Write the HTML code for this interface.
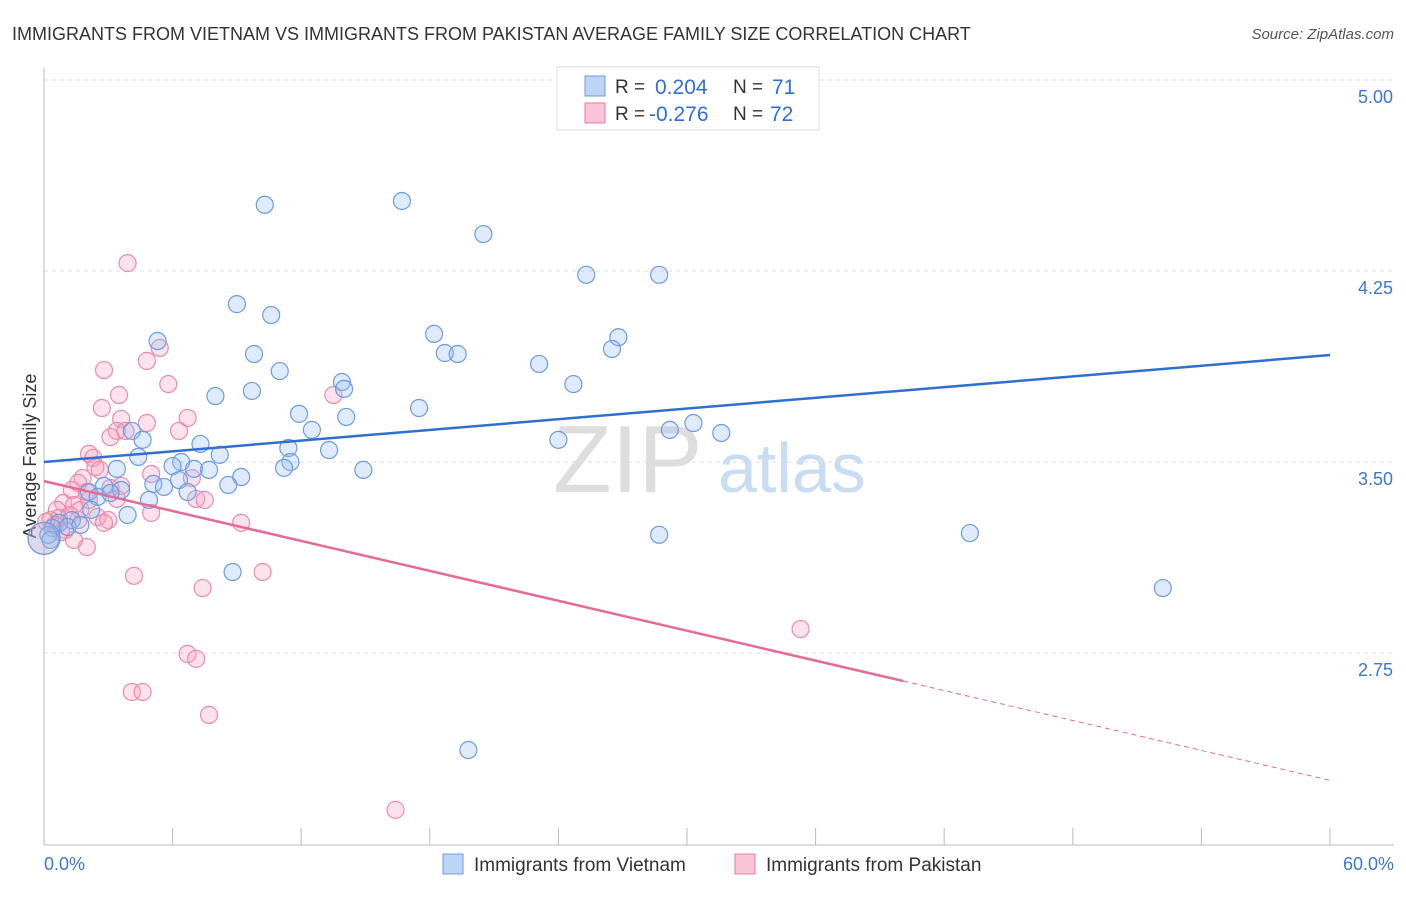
<!DOCTYPE html>
<html><head><meta charset="utf-8"><style>
body{margin:0;background:#fff;font-family:"Liberation Sans",sans-serif;}
svg text{font-family:"Liberation Sans",sans-serif;}
</style></head><body>
<svg width="1406" height="892" xmlns="http://www.w3.org/2000/svg">
<text x="12" y="40" font-size="18" fill="#333">IMMIGRANTS FROM VIETNAM VS IMMIGRANTS FROM PAKISTAN AVERAGE FAMILY SIZE CORRELATION CHART</text>
<text x="1394" y="39" font-size="15" fill="#555" font-style="italic" text-anchor="end">Source: ZipAtlas.com</text>
<g><text x="553" y="492" font-size="96" fill="#ddd" font-family="Liberation Serif">ZIP</text><text x="718" y="492" font-size="70" fill="#c8dcf2">atlas</text></g>
<g id="grid"></g>
<line x1="44" y1="68" x2="44" y2="845" stroke="#bbb"/>
<line x1="44" y1="845" x2="1394" y2="845" stroke="#bbb"/>
<g id="ticks"></g>
<text x="36" y="456" font-size="18" fill="#333" text-anchor="middle" transform="rotate(-90 36 456)">Average Family Size</text>
<g id="pts"></g>
<g id="lines"></g>
<g>
<rect x="557" y="67" width="262" height="63" fill="#fff" stroke="#ddd"/>
<rect x="585" y="76" width="20" height="20" fill="#bcd5f5" stroke="#6b9be0"/>
<rect x="585" y="103" width="20" height="20" fill="#f9c4d6" stroke="#e87aa0"/>
<text x="615" y="93" font-size="19" fill="#333">R =</text>
<text x="655" y="94" font-size="21" fill="#2e6fd0">0.204</text>
<text x="733" y="93" font-size="19" fill="#333">N =</text>
<text x="772" y="94" font-size="21" fill="#2e6fd0">71</text>
<text x="615" y="120" font-size="19" fill="#333">R =</text>
<text x="649" y="121" font-size="21" fill="#2e6fd0">-0.276</text>
<text x="733" y="120" font-size="19" fill="#333">N =</text>
<text x="770" y="121" font-size="21" fill="#2e6fd0">72</text>
</g>
<g>
<rect x="443" y="854" width="20" height="20" fill="#bcd5f5" stroke="#6b9be0"/>
<text x="474" y="871" font-size="19" fill="#333">Immigrants from Vietnam</text>
<rect x="735" y="854" width="20" height="20" fill="#f9c4d6" stroke="#e87aa0"/>
<text x="766" y="871" font-size="19" fill="#333">Immigrants from Pakistan</text>
</g>
<text x="44" y="870" font-size="18" fill="#3a78d0">0.0%</text>
<text x="1394" y="870" font-size="18" fill="#3a78d0" text-anchor="end">60.0%</text>
</svg>
<script>
const yTicks=[5.00,4.25,3.50,2.75];
const yTickLabels=["5.00","4.25","3.50","2.75"];
const blueX=[10.3,16.7,20.5,25.3,28.7,9.0,10.6,18.2,26.8,5.3,9.8,18.7,19.3,26.5,23.1,11.0,13.9,14.0,24.7,8.0,9.7,17.5,11.9,14.1,4.1,4.6,7.3,12.5,24.0,29.2,30.3,31.6,11.4,13.3,4.4,8.2,6.4,3.4,6.0,7.0,7.7,11.5,11.2,14.9,9.2,5.1,6.3,8.6,5.6,6.7,2.8,2.1,3.6,2.5,4.9,3.1,2.2,3.9,1.3,0.7,0.4,1.1,1.7,0.2,0.3,28.7,43.2,8.8,52.2,19.8,0];
const blueY=[4.51,4.525,4.395,4.235,4.235,4.12,4.077,4.003,3.99,3.975,3.924,3.928,3.924,3.944,3.885,3.857,3.814,3.787,3.806,3.759,3.779,3.712,3.689,3.677,3.622,3.587,3.571,3.626,3.587,3.626,3.653,3.614,3.555,3.547,3.52,3.528,3.5,3.473,3.484,3.473,3.469,3.5,3.477,3.469,3.441,3.414,3.429,3.41,3.402,3.382,3.406,3.382,3.39,3.363,3.351,3.378,3.312,3.292,3.272,3.261,3.241,3.245,3.253,3.214,3.194,3.214,3.221,3.068,3.005,2.369,3.2];
const pinkX=[3.9,5.4,4.8,2.8,5.8,3.5,2.7,13.5,6.7,4.8,3.6,3.4,3.8,6.3,3.1,2.1,2.3,2.4,2.6,5.0,1.8,6.9,1.6,3.6,3.1,1.3,2.0,7.1,7.5,3.4,0.9,1.4,0.6,5.0,1.7,2.5,3.0,9.2,0.7,0.3,0.5,1.0,1.6,0.1,2.8,0,2.0,4.2,10.2,7.4,6.7,7.1,35.3,4.1,4.6,7.7,16.4,0.8,1.2,2.1,1.4];
const pinkY=[4.281,3.948,3.897,3.861,3.806,3.763,3.712,3.763,3.673,3.653,3.669,3.622,3.622,3.622,3.598,3.532,3.516,3.48,3.469,3.453,3.437,3.437,3.418,3.406,3.398,3.39,3.382,3.355,3.351,3.355,3.339,3.331,3.312,3.3,3.312,3.284,3.272,3.261,3.28,3.272,3.253,3.233,3.272,3.265,3.261,3.2,3.166,3.053,3.068,3.005,2.746,2.727,2.844,2.597,2.597,2.507,2.134,3.225,3.292,3.351,3.194];
const blueLine=[3.50,3.92];
const pinkLine=[3.425,2.25];
const pinkSolidEnd=40.1;
const NS="http://www.w3.org/2000/svg";
const xs=v=>44+v*(1286/60);
const ys=v=>80+(5-v)*(191/0.75);
function mk(t,a,p){const e=document.createElementNS(NS,t);for(const k in a)e.setAttribute(k,a[k]);p.appendChild(e);return e;}
const grid=document.getElementById('grid'),ticks=document.getElementById('ticks');
yTicks.forEach((v,i)=>{
 const l=mk('line',{x1:44,x2:1394,y1:ys(v),y2:ys(v),stroke:'#ddd','stroke-dasharray':'4,4'},grid);
 
 
 const t=mk('text',{x:1393,y:ys(v)+23,'font-size':18,fill:'#3a78d0','text-anchor':'end'},ticks);
 t.textContent=yTickLabels[i];
 
 
});
for(let i=0;i<=10;i++){
 const l=mk('line',{x1:xs(i*6),x2:xs(i*6),y1:828,y2:845,stroke:'#bbb'},ticks);
 
 
}
const pts=document.getElementById('pts');
pinkX.forEach((x,i)=>{
 const c=mk('circle',{cx:xs(x),cy:ys(pinkY[i]),r:x===0?16:8.5,fill:'rgba(245,160,190,0.3)',stroke:'#ec8aab','stroke-width':1.2},pts);
 
 
});
blueX.forEach((x,i)=>{
 const c=mk('circle',{cx:xs(x),cy:ys(blueY[i]),r:x===0?16:8.5,fill:'rgba(150,190,240,0.3)',stroke:'#6b9be0','stroke-width':1.2},pts);
 
 
});
const lines=document.getElementById('lines');
const bl=mk('line',{x1:xs(0),y1:ys(blueLine[0]),x2:xs(60),y2:ys(blueLine[1]),stroke:'#2e6fd0','stroke-width':2.5},lines);


const pv=x=>pinkLine[0]+(pinkLine[1]-pinkLine[0])*x/60;
const pl=mk('line',{x1:xs(0),y1:ys(pv(0)),x2:xs(pinkSolidEnd),y2:ys(pv(pinkSolidEnd)),stroke:'#e56a98','stroke-width':2.5},lines);


const pd=mk('line',{x1:xs(pinkSolidEnd),y1:ys(pv(pinkSolidEnd)),x2:xs(60),y2:ys(pv(60)),stroke:'#e56a98','stroke-width':1,'stroke-dasharray':'5,4'},lines);


</script>
</body></html>
